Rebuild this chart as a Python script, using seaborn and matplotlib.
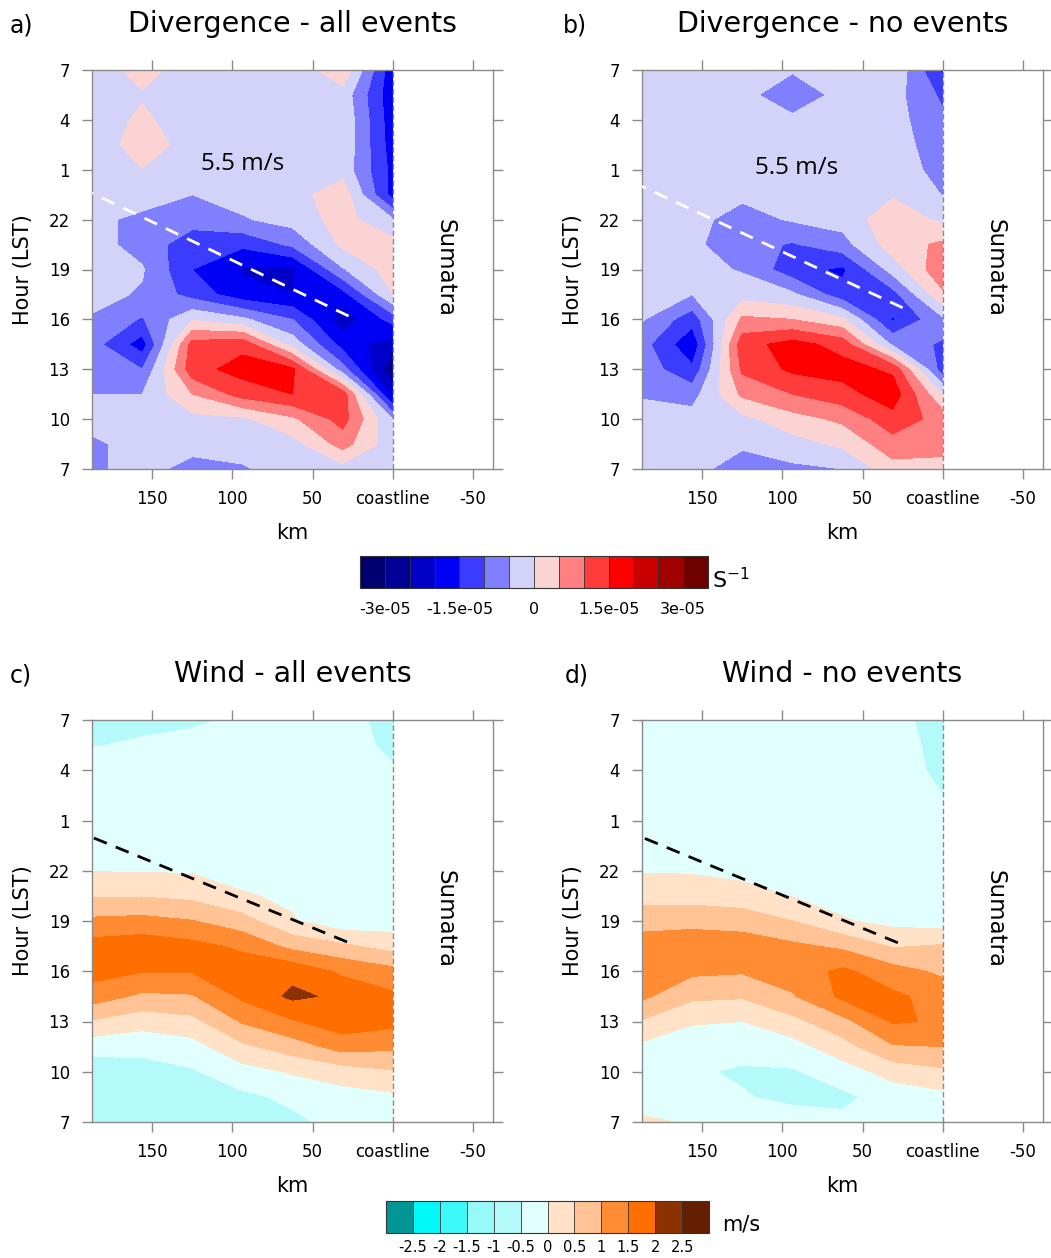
import numpy as np
import matplotlib
matplotlib.use("Agg")
import matplotlib.pyplot as plt
import matplotlib.cm as cm
from matplotlib.colors import ListedColormap, BoundaryNorm
import seaborn as sns

# ---------------------------------------------------------------- grid
distance_km = [187.5, 156.25, 125.0, 93.75, 62.5, 31.25, 0.0]
hour_lst = [7, 8.5, 10, 11.5, 13, 14.5, 16, 17.5, 19, 20.5, 22, 23.5, 25, 26.5, 28, 29.5, 31]

km_ticks = [150, 100, 50, 0, -50]
km_labels = ["150", "100", "50", "coastline", "-50"]
hour_ticks = [7, 10, 13, 16, 19, 22, 25, 28, 31]
hour_labels = ["7", "10", "13", "16", "19", "22", "1", "4", "7"]

# ---------------------------------------------------------------- divergence (1e-5 s-1), rows from 7 LST upward
div_all_e5 = [
    [-0.60, -0.30, -0.70, -0.55, -0.30, -0.20, -0.30],
    [-0.60, -0.30, -0.30, -0.30, -0.20, 0.70, -0.30],
    [-0.30, -0.20, -0.15, -0.10, 0.40, 1.20, -0.50],
    [-0.50, -0.50, 0.50, 1.20, 1.50, 1.30, -2.20],
    [-0.75, -1.00, 1.30, 1.70, 1.60, -0.80, -2.90],
    [-0.80, -1.75, 1.20, 1.35, -0.20, -1.70, -2.30],
    [-0.55, -1.05, -0.05, -0.40, -1.00, -2.30, -1.30],
    [-0.35, -0.55, -1.20, -1.80, -2.00, -1.70, 0.00],
    [-0.30, -0.45, -1.50, -2.05, -2.10, -0.55, 0.25],
    [-0.30, -0.70, -1.30, -1.40, -0.90, 0.10, 0.20],
    [-0.40, -0.60, -0.80, -0.55, -0.30, 0.20, -0.45],
    [-0.30, -0.30, -0.50, -0.30, -0.20, 0.30, -1.70],
    [-0.30, -0.02, -0.20, -0.20, -0.20, -0.20, -1.65],
    [-0.38, 0.30, -0.24, -0.20, -0.20, -0.10, -1.75],
    [-0.30, 0.10, -0.30, -0.25, -0.25, -0.10, -1.80],
    [-0.30, -0.05, -0.30, -0.30, -0.30, -0.20, -1.85],
    [-0.30, 0.20, -0.30, -0.30, -0.40, 0.38, -1.85],
]
div_none_e5 = [
    [-0.30, -0.30, -0.80, -0.60, -0.50, 0.30, 0.30],
    [-0.40, -0.30, -0.40, -0.20, 0.10, 0.80, 0.70],
    [-0.30, -0.30, -0.15, 0.30, 0.60, 1.30, 0.80],
    [-0.55, -0.70, 0.60, 1.00, 1.30, 1.80, 0.00],
    [-0.70, -1.40, 1.10, 1.60, 1.70, 1.40, -1.30],
    [-0.80, -1.90, 1.30, 1.70, 1.30, -0.60, -1.10],
    [-0.45, -1.30, 0.60, 0.50, 0.10, -1.55, -0.60],
    [-0.30, -0.50, -0.20, -0.40, -1.30, -1.20, 0.40],
    [-0.30, -0.30, -0.55, -1.30, -1.60, -0.30, 0.90],
    [-0.30, -0.40, -0.80, -1.05, -0.70, 0.25, 0.60],
    [-0.30, -0.35, -0.70, -0.45, -0.30, 0.30, -0.10],
    [-0.30, -0.30, -0.40, -0.30, -0.25, -0.05, -0.52],
    [-0.30, -0.10, -0.25, -0.25, -0.25, -0.20, -0.70],
    [-0.30, -0.30, -0.30, -0.30, -0.30, -0.25, -0.80],
    [-0.30, -0.30, -0.30, -0.40, -0.30, -0.30, -0.90],
    [-0.30, -0.30, -0.35, -0.80, -0.35, -0.30, -1.10],
    [-0.30, -0.30, -0.30, -0.45, -0.30, -0.05, -1.60],
]

# ---------------------------------------------------------------- wind (m/s), rows from 7 LST upward
wind_all = [
    [-0.70, -0.70, -0.70, -0.55, -0.60, -0.35, -0.30],
    [-0.70, -0.70, -0.70, -0.60, -0.40, -0.20, -0.10],
    [-0.80, -0.70, -0.55, -0.20, 0.05, 0.25, 0.45],
    [-0.30, -0.35, -0.20, 0.40, 0.75, 1.20, 1.10],
    [0.45, 0.20, 0.35, 1.05, 1.45, 1.80, 1.65],
    [1.25, 0.90, 0.95, 1.60, 2.10, 1.90, 1.60],
    [1.70, 1.52, 1.53, 1.80, 1.85, 1.40, 1.15],
    [1.70, 1.80, 1.65, 1.40, 0.85, 0.60, 0.30],
    [1.10, 1.15, 1.02, 0.70, 0.05, -0.35, -0.25],
    [0.45, 0.47, 0.38, 0.05, -0.10, -0.20, -0.15],
    [-0.02, -0.03, -0.05, -0.20, -0.20, -0.25, -0.20],
    [-0.20, -0.20, -0.20, -0.20, -0.25, -0.30, -0.25],
    [-0.25, -0.25, -0.25, -0.25, -0.30, -0.30, -0.30],
    [-0.30, -0.30, -0.30, -0.30, -0.30, -0.30, -0.30],
    [-0.30, -0.35, -0.30, -0.30, -0.30, -0.30, -0.45],
    [-0.52, -0.45, -0.40, -0.35, -0.30, -0.30, -0.60],
    [-0.70, -0.60, -0.55, -0.45, -0.40, -0.30, -0.70],
]
wind_none = [
    [0.10, -0.05, -0.20, -0.30, -0.40, -0.30, -0.30],
    [-0.30, -0.30, -0.47, -0.60, -0.60, -0.30, -0.15],
    [-0.30, -0.45, -0.55, -0.55, -0.25, 0.20, 0.40],
    [-0.10, -0.30, -0.35, -0.20, 0.30, 0.95, 1.00],
    [0.45, 0.05, 0.00, 0.35, 0.85, 1.55, 1.45],
    [1.10, 0.60, 0.55, 0.95, 1.60, 1.60, 1.30],
    [1.30, 1.10, 1.05, 1.25, 1.60, 1.20, 0.90],
    [1.25, 1.30, 1.25, 1.10, 0.90, 0.45, 0.55],
    [0.80, 0.85, 0.80, 0.50, 0.05, -0.15, -0.25],
    [0.30, 0.30, 0.20, -0.02, -0.20, -0.30, -0.20],
    [-0.03, -0.05, -0.15, -0.25, -0.30, -0.30, -0.25],
    [-0.20, -0.20, -0.20, -0.20, -0.25, -0.30, -0.30],
    [-0.25, -0.25, -0.25, -0.25, -0.30, -0.30, -0.35],
    [-0.30, -0.30, -0.30, -0.30, -0.30, -0.30, -0.50],
    [-0.30, -0.30, -0.30, -0.30, -0.30, -0.30, -0.60],
    [-0.30, -0.30, -0.30, -0.30, -0.30, -0.30, -0.65],
    [-0.30, -0.30, -0.30, -0.30, -0.35, -0.35, -0.70],
]

# ---------------------------------------------------------------- propagation lines (km, LST)
front_km_div_all = [187.5, 27.5]
front_hr_div_all = [23.6, 16.2]
front_km_div_none = [187.5, 25.0]
front_hr_div_none = [24.0, 16.7]
front_km_wind_all = [187.5, 28.5]
front_hr_wind_all = [24.0, 17.75]
front_km_wind_none = [187.5, 28.0]
front_hr_wind_none = [24.0, 17.7]

# ---------------------------------------------------------------- contour levels and colours
div_levels = [-3.0, -2.5, -2.0, -1.5, -1.0, -0.5, 0.0, 0.5, 1.0, 1.5, 2.0, 2.5, 3.0]
div_colors = ["#00006e", "#000096", "#0000c8", "#0000f5", "#3c3cff", "#8080ff", "#d3d3f9",
              "#fbd3d3", "#ff8080", "#ff3c3c", "#ff0000", "#c80000", "#a00000", "#6e0000"]
div_tick_values = [-3.0, -1.5, 0.0, 1.5, 3.0]
div_tick_labels = ["-3e-05", "-1.5e-05", "0", "1.5e-05", "3e-05"]

wind_levels = [-2.5, -2.0, -1.5, -1.0, -0.5, 0.0, 0.5, 1.0, 1.5, 2.0, 2.5]
wind_colors = ["#009696", "#00fafa", "#3cfafa", "#96fafa", "#b4fafa", "#e0fffd",
               "#ffe2c8", "#ffc396", "#ff8c32", "#ff6e00", "#8c3200", "#641e00"]
wind_tick_labels = ["-2.5", "-2", "-1.5", "-1", "-0.5", "0", "0.5", "1", "1.5", "2", "2.5"]

# ---------------------------------------------------------------- style
sns.set_theme(style="ticks")
plt.rcParams["font.family"] = ["DejaVu Sans"]
plt.rcParams["mathtext.fontset"] = "dejavusans"
plt.rcParams["text.color"] = "black"
plt.rcParams["axes.labelcolor"] = "black"
plt.rcParams["xtick.labelcolor"] = "black"
plt.rcParams["ytick.labelcolor"] = "black"
FRAME = "#8a8a8a"

W, H = 1051, 1258
fig = plt.figure(figsize=(W / 100, H / 100), dpi=100)
fig.patch.set_facecolor("white")


def px_rect(left, top, right, bottom):
    return [left / W, 1 - bottom / H, (right - left) / W, (bottom - top) / H]


div_cmap = ListedColormap(sns.color_palette(div_colors))
div_norm = BoundaryNorm(div_levels, ncolors=len(div_colors), extend="both")
wind_cmap = ListedColormap(sns.color_palette(wind_colors))
wind_norm = BoundaryNorm(wind_levels, ncolors=len(wind_colors), extend="both")

panels = [
    dict(rect=(92, 70, 493, 469), field=np.array(div_all_e5), cmap=div_cmap, norm=div_norm,
         levels=div_levels, title="Divergence - all events", tag="a)", tag_x=10,
         front=(front_km_div_all, front_hr_div_all), front_color="white",
         speed=(93.4, 25.35)),
    dict(rect=(642, 70, 1043, 469), field=np.array(div_none_e5), cmap=div_cmap, norm=div_norm,
         levels=div_levels, title="Divergence - no events", tag="b)", tag_x=563,
         front=(front_km_div_none, front_hr_div_none), front_color="white",
         speed=(91.3, 25.1)),
    dict(rect=(92, 720, 493, 1122), field=np.array(wind_all), cmap=wind_cmap, norm=wind_norm,
         levels=wind_levels, title="Wind - all events", tag="c)", tag_x=10,
         front=(front_km_wind_all, front_hr_wind_all), front_color="black", speed=None),
    dict(rect=(642, 720, 1043, 1122), field=np.array(wind_none), cmap=wind_cmap, norm=wind_norm,
         levels=wind_levels, title="Wind - no events", tag="d)", tag_x=565,
         front=(front_km_wind_none, front_hr_wind_none), front_color="black", speed=None),
]

for p in panels:
    left, top, right, bottom = p["rect"]
    ax = fig.add_axes(px_rect(left, top, right, bottom))
    ax.contourf(distance_km, hour_lst, p["field"], levels=p["levels"], cmap=p["cmap"],
                norm=p["norm"], extend="both")
    ax.axvline(0, color="#8a8a8a", lw=1.0, ls=(0, (4, 2)), zorder=3)

    fx, fy = p["front"]
    sns.lineplot(x=fx, y=fy, ax=ax, color=p["front_color"], lw=2.0, linestyle=(0, (5, 3.5)),
                 zorder=4)

    ax.set_xlim(187.5, -62.5)
    ax.set_ylim(7, 31)
    ax.set_xticks(km_ticks)
    ax.set_xticklabels(km_labels)
    ax.set_yticks(hour_ticks)
    ax.set_yticklabels(hour_labels)
    ax.tick_params(direction="out", length=7, width=1, color=FRAME, top=True, right=True,
                   labelsize=12, labelcolor="black")
    ax.tick_params(axis="x", pad=8)
    ax.tick_params(axis="y", pad=9)
    for sp in ax.spines.values():
        sp.set_color(FRAME)
        sp.set_linewidth(1.0)
        sp.set_visible(True)

    ax.set_xlabel("km", fontsize=15, color="black")
    ax.xaxis.set_label_coords(0.5, -64 / (bottom - top))
    ax.xaxis.label.set_va("center")
    ax.set_ylabel("Hour (LST)", fontsize=15, color="black")
    ax.yaxis.set_label_coords(-69 / (right - left), 0.5)
    ax.yaxis.label.set_va("center")

    ax.text(-32.5, 19.1, "Sumatra", rotation=-90, ha="center", va="center", fontsize=16.5,
            color="black")
    if p["speed"] is not None:
        ax.text(p["speed"][0], p["speed"][1], "5.5 m/s", ha="center", va="center",
                fontsize=17.5, color="black", family=["Open Sans", "DejaVu Sans"])

    cx = (left + right) / 2
    fig.text(cx / W, 1 - (top - 38) / H, p["title"], ha="center", va="baseline", fontsize=20.5,
             color="black")
    fig.text(p["tag_x"] / W, 1 - (top - 37) / H, p["tag"], ha="left", va="baseline", fontsize=17,
             color="black")

# ---------------------------------------------------------------- label bars
cax1 = fig.add_axes(px_rect(360, 556, 708, 588))
div_bounds = [-3.5] + div_levels + [3.5]
sm1 = cm.ScalarMappable(norm=BoundaryNorm(div_bounds, ncolors=len(div_colors)), cmap=div_cmap)
cb1 = fig.colorbar(sm1, cax=cax1, orientation="horizontal", drawedges=True, ticks=div_tick_values)
cb1.minorticks_off()
cb1.set_ticklabels(div_tick_labels)
cb1.ax.tick_params(which="both", length=0, labelsize=11.5, pad=10, labelcolor="black")
cb1.outline.set_edgecolor("#333333")
cb1.outline.set_linewidth(0.8)
cb1.dividers.set_color("#333333")
cb1.dividers.set_linewidth(0.6)
fig.text(712 / W, 1 - 588 / H, r"S$^{-1}$", ha="left", va="baseline", fontsize=16, color="black")

cax2 = fig.add_axes(px_rect(386, 1201, 709, 1233))
wind_bounds = [-3.0] + wind_levels + [3.0]
sm2 = cm.ScalarMappable(norm=BoundaryNorm(wind_bounds, ncolors=len(wind_colors)), cmap=wind_cmap)
cb2 = fig.colorbar(sm2, cax=cax2, orientation="horizontal", drawedges=True, ticks=wind_levels)
cb2.minorticks_off()
cb2.set_ticklabels(wind_tick_labels)
cb2.ax.tick_params(which="both", length=0, labelsize=10.5, pad=5, labelcolor="black")
cb2.outline.set_edgecolor("#333333")
cb2.outline.set_linewidth(0.8)
cb2.dividers.set_color("#333333")
cb2.dividers.set_linewidth(0.6)
fig.text(722 / W, 1 - 1231 / H, "m/s", ha="left", va="baseline", fontsize=15, color="black")

fig.savefig("out.png", dpi=100, facecolor="white")
